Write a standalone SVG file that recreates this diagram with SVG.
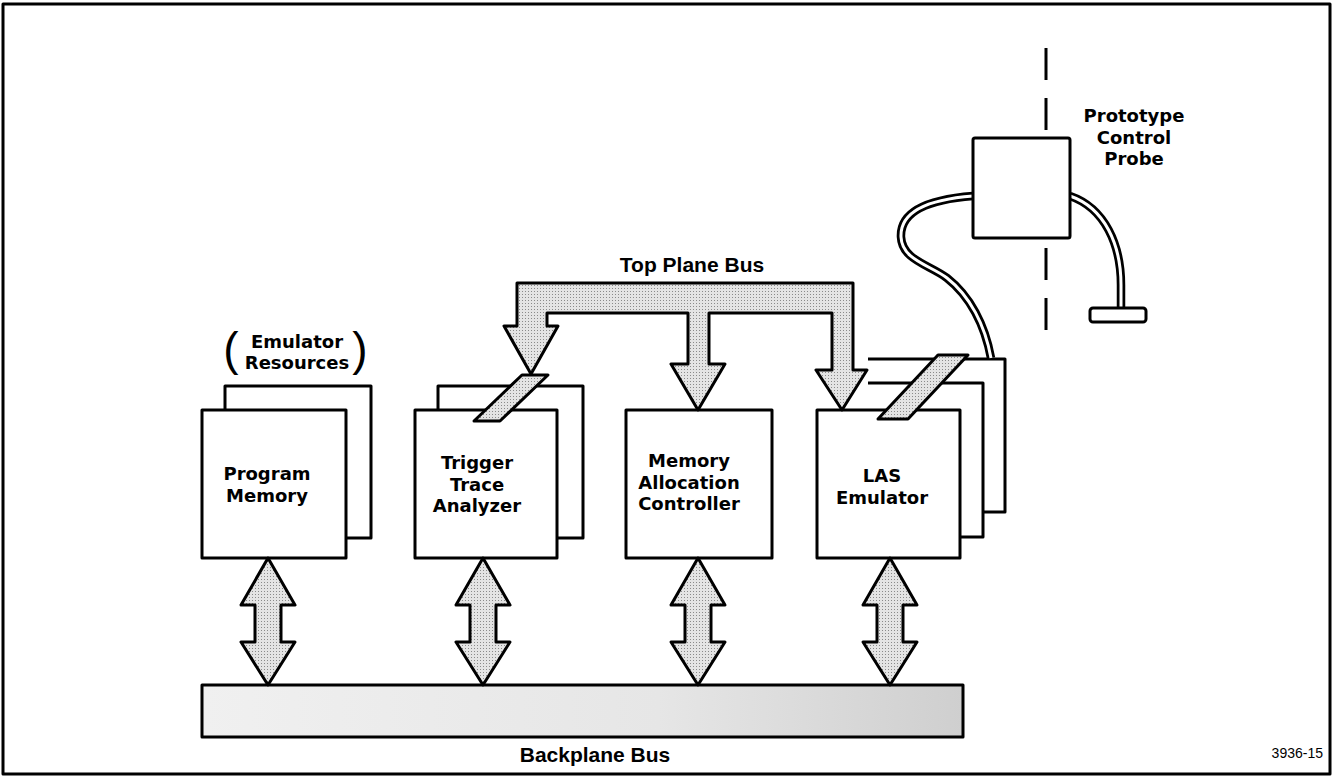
<svg xmlns="http://www.w3.org/2000/svg" width="1334" height="778" viewBox="0 0 1334 778">
<style>
.ln{fill:none;stroke:#000;stroke-width:3;stroke-linejoin:round}
.bx{fill:#fff;stroke:#000;stroke-width:3;stroke-linejoin:round}
.sh{fill:url(#stip);stroke:#000;stroke-width:3;stroke-linejoin:round}
.t{font-family:"DejaVu Sans",sans-serif;font-weight:bold;font-size:18px;text-anchor:middle;fill:#000}
.b{font-family:"Liberation Sans",Arial,sans-serif;font-weight:bold;font-size:21px;text-anchor:middle;fill:#000}
.cab{fill:none;stroke:#000;stroke-width:8.5;stroke-linecap:butt}
.cabi{fill:none;stroke:#fff;stroke-width:3;stroke-linecap:butt}
</style>
<defs>
<pattern id="stip" width="3" height="3" patternUnits="userSpaceOnUse">
<rect width="3" height="3" fill="#e4e4e4"/>
<rect x="0" y="0" width="1" height="1" fill="#8a8a8a"/>
</pattern>
<linearGradient id="bpg" x1="0" y1="0" x2="1" y2="0">
<stop offset="0" stop-color="#f0f0f0"/>
<stop offset="0.6" stop-color="#e6e6e6"/>
<stop offset="1" stop-color="#cfcfcf"/>
</linearGradient>
</defs>
<rect x="0" y="0" width="1334" height="778" fill="#fff"/>
<rect x="3" y="4" width="1327" height="770" class="ln"/>

<g id="emulator-resources-label">
<text x="231" y="365" style="font-family:'Liberation Sans',Arial,sans-serif;font-size:46px;text-anchor:middle">(</text>
<text x="360" y="365" style="font-family:'Liberation Sans',Arial,sans-serif;font-size:46px;text-anchor:middle">)</text>
<text class="t" x="297" y="348">Emulator</text>
<text class="t" x="297" y="369">Resources</text>
</g>

<g id="program-memory">
<rect x="225" y="386" width="146" height="152" class="bx"/>
<rect x="202" y="410" width="144" height="148" class="bx"/>
<text class="t" x="267" y="480">Program</text>
<text class="t" x="267" y="502">Memory</text>
</g>

<g id="trigger-trace-analyzer">
<rect x="438" y="386" width="145" height="152" class="bx"/>
<rect x="415" y="410" width="142" height="148" class="bx"/>
<polygon points="522,375 548,375 500,421 474,421" class="sh"/>
<text class="t" x="477" y="469">Trigger</text>
<text class="t" x="477" y="491">Trace</text>
<text class="t" x="477" y="512">Analyzer</text>
</g>

<g id="memory-allocation-controller">
<rect x="626" y="410" width="146" height="148" class="bx"/>
<text class="t" x="689" y="467">Memory</text>
<text class="t" x="689" y="489">Allocation</text>
<text class="t" x="689" y="510">Controller</text>
</g>

<g id="las-emulator">
<path d="M868,359 H1005 V512 H983" class="ln"/>
<path d="M868,383 H983 V537 H960" class="ln"/>
<rect x="817" y="410" width="143" height="148" class="bx"/>
<polygon points="938,355 968,355 908,419 878,419" class="sh"/>
<text class="t" x="882" y="482">LAS</text>
<text class="t" x="882" y="504">Emulator</text>
</g>

<g id="prototype-control-probe">
<line x1="1046" y1="48" x2="1046" y2="333" stroke="#000" stroke-width="3" stroke-dasharray="32 18"/>
<path d="M973,196 C920,200 900,215 901,237 C902,260 930,265 947,278 C970,296 985,325 991,358" class="cab"/>
<path d="M973,196 C920,200 900,215 901,237 C902,260 930,265 947,278 C970,296 985,325 991,358" class="cabi"/>
<path d="M1070,196 C1105,208 1121,245 1121,285 L1121,309" class="cab"/>
<path d="M1070,196 C1105,208 1121,245 1121,285 L1121,309" class="cabi"/>
<rect x="973" y="138" width="97" height="100" rx="2" class="bx"/>
<rect x="1090" y="308" width="56" height="14" rx="3" class="bx"/>
<text class="t" x="1134" y="122">Prototype</text>
<text class="t" x="1134" y="144">Control</text>
<text class="t" x="1134" y="165">Probe</text>
</g>

<g id="backplane-bus">
<rect x="202" y="685" width="761" height="52" fill="url(#bpg)" stroke="#000" stroke-width="3" stroke-linejoin="round"/>
<text class="b" x="595" y="762">Backplane Bus</text>
</g>

<g id="connectors">
<path d="M517,283 H853 V370 H867 L842,410 L816,370 H832 V313 H709 V364 H725 L698,410 L671,364 H688 V313 H547 V326 H558 L531,374 L504,326 H517 Z" class="sh"/>
<path d="M268,558 L295,605 H281 V642 H295 L268,685 L241,642 H255 V605 H241 Z" class="sh"/>
<path d="M483,558 L510,605 H496 V642 H510 L483,685 L456,642 H470 V605 H456 Z" class="sh"/>
<path d="M698,558 L725,605 H711 V642 H725 L698,685 L671,642 H685 V605 H671 Z" class="sh"/>
<path d="M890,558 L917,605 H903 V642 H917 L890,685 L863,642 H877 V605 H863 Z" class="sh"/>
</g>
<text class="b" x="692" y="272" id="top-plane-bus-label">Top Plane Bus</text>
<text x="1323" y="758" style="font-family:'Liberation Sans',Arial,sans-serif;font-size:14px;text-anchor:end">3936-15</text>
</svg>
